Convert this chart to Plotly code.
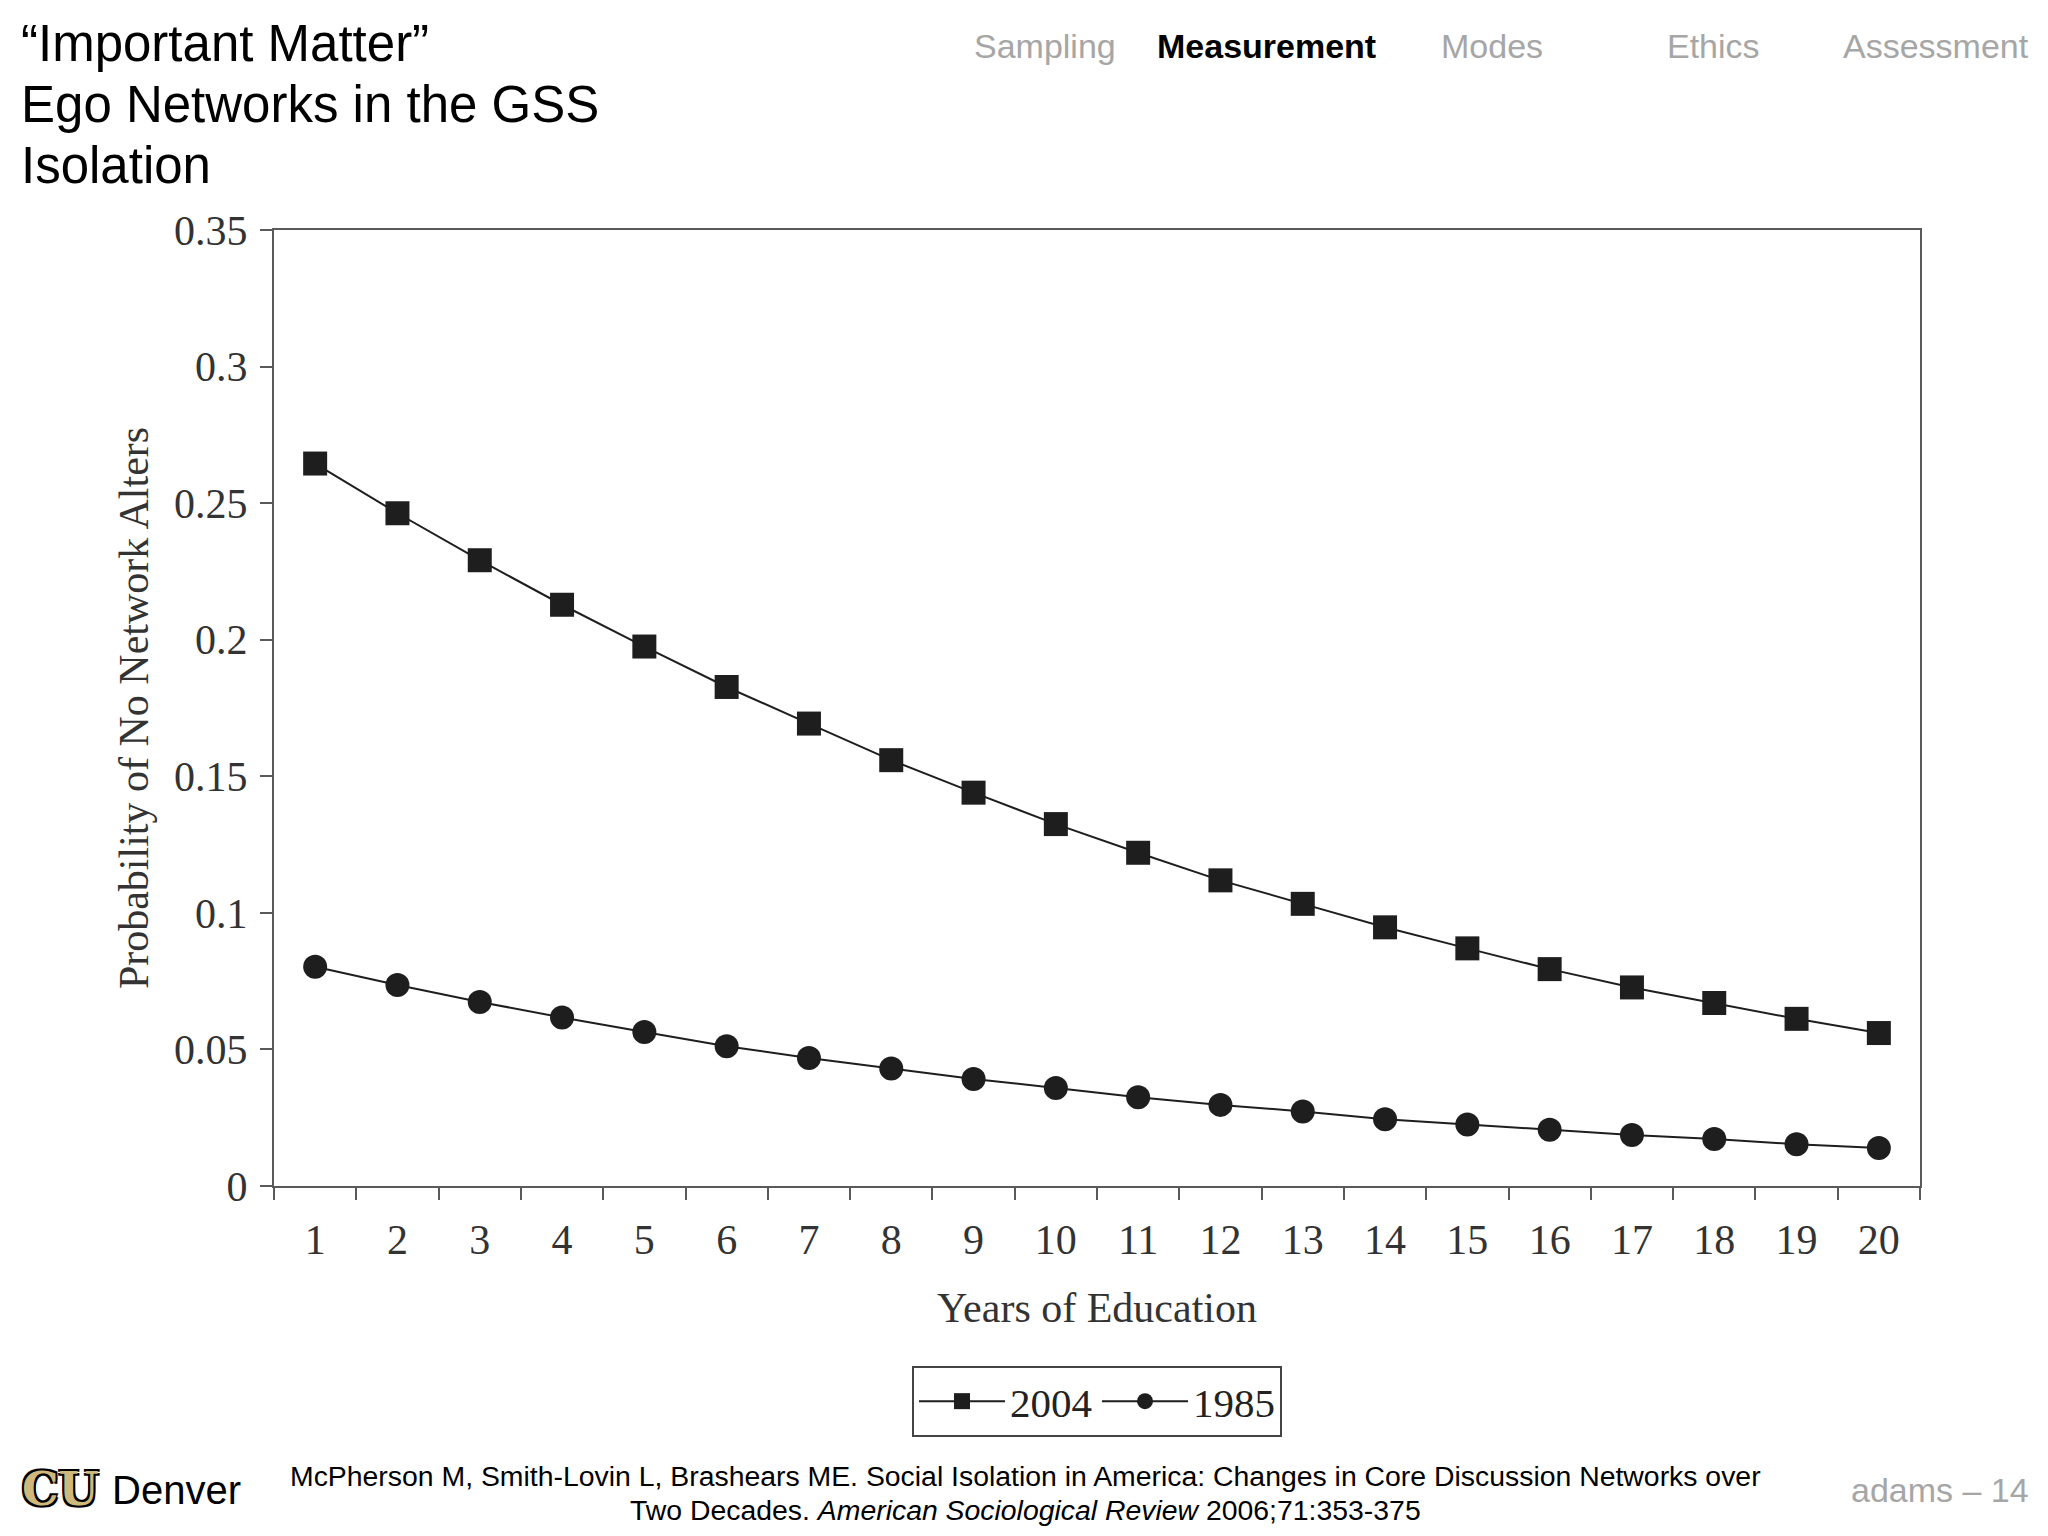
import plotly.graph_objects as go

# ---- data ----
years = [str(i) for i in range(1, 21)]
p2004 = [0.2645, 0.2463, 0.2291, 0.2128, 0.1975, 0.1827, 0.1693, 0.1559, 0.1440, 0.1325,
         0.1220, 0.1119, 0.1033, 0.0947, 0.0870, 0.0794, 0.0727, 0.0670, 0.0612, 0.0560]
p1985 = [0.0803, 0.0736, 0.0674, 0.0617, 0.0564, 0.0512, 0.0469, 0.0430, 0.0392, 0.0359,
         0.0325, 0.0297, 0.0273, 0.0244, 0.0225, 0.0206, 0.0187, 0.0172, 0.0153, 0.0139]
y_tickvals = [0, 0.05, 0.1, 0.15, 0.2, 0.25, 0.3, 0.35]
y_ticktext = ["0", "0.05", "0.1", "0.15", "0.2", "0.25", "0.3", "0.35"]
title_lines = ["“Important Matter”", "Ego Networks in the GSS", "Isolation"]
nav_items = ["Sampling", "Measurement", "Modes", "Ethics", "Assessment"]
nav_active = "Measurement"

# ---- layout geometry (page pixels; the page body has an 8px margin) ----
OFF = 8
W, H = 2048 - OFF, 1536 - OFF
PL, PR, PT, PB = 274, 1920, 230, 1186          # plot area in page pixels
L, T = PL - OFF, PT - OFF
R, B = (W + OFF) - PR, (H + OFF) - PB
PW, PH = PR - PL, PB - PT


def px(x):
    return (x - PL) / PW


def py(y):
    return (PB - y) / PH


SERIF = "Liberation Serif, Times New Roman, serif"
SANS = "Liberation Sans, Arial, sans-serif"
INK = "#1e1e1e"

fig = go.Figure()
fig.add_trace(go.Scatter(
    x=years, y=p2004, name="2004", mode="lines+markers",
    line=dict(color=INK, width=2),
    marker=dict(symbol="square", size=24, color=INK),
))
fig.add_trace(go.Scatter(
    x=years, y=p1985, name="1985", mode="lines+markers",
    line=dict(color=INK, width=2),
    marker=dict(symbol="circle", size=24, color=INK),
))

axis_common = dict(
    showline=True, linecolor="#5a5a5a", linewidth=2, mirror=True,
    ticks="outside", tickcolor="#5a5a5a", tickwidth=2, ticklen=12,
    showgrid=False, zeroline=False,
    tickfont=dict(family=SERIF, size=42, color="#333333"),
)

fig.update_layout(
    width=W, height=H,
    margin=dict(l=L, r=R, t=T, b=B, autoexpand=False),
    paper_bgcolor="white", plot_bgcolor="white",
    xaxis=dict(
        type="category", tickson="boundaries", range=[-0.5, 19.5],
        ticklabelstandoff=16,
        title=dict(text="Years of Education", font=dict(family=SERIF, size=42, color="#333333"),
                   standoff=30),
        **axis_common,
    ),
    yaxis=dict(
        range=[0, 0.35], tickmode="array", tickvals=y_tickvals, ticktext=y_ticktext,
        ticklabelstandoff=4,
        title=dict(text="Probability of No Network Alters",
                   font=dict(family=SERIF, size=42, color="#333333"), standoff=12),
        **axis_common,
    ),
    legend=dict(
        orientation="h", x=0.5, xanchor="center", y=py(1366), yanchor="top",
        bordercolor="#444444", borderwidth=2, bgcolor="white",
        font=dict(family=SERIF, size=41, color="#222222"),
        itemsizing="trace", itemwidth=86, tracegroupgap=10,
    ),
    showlegend=True,
)

ann = []
# header title lines
for text, yc in zip(title_lines, [43, 104, 165]):
    ann.append(dict(text=text, x=px(19), y=py(yc), xanchor="left", yanchor="middle",
                    font=dict(family=SANS, size=51, color="black")))
# navigation
for text, xl in zip(nav_items, [972, 1155, 1439, 1665, 1841]):
    active = text == nav_active
    ann.append(dict(text=f"<b>{text}</b>" if active else text, x=px(xl), y=py(46),
                    xanchor="left", yanchor="middle",
                    font=dict(family=SANS, size=34, color="black" if active else "#a6a6a6")))
# footer
ann.append(dict(text="<b>CU</b>", x=px(60), y=py(1489), xanchor="center", yanchor="middle",
                font=dict(family="DejaVu Serif, serif", size=46, color="#CFB87C",
                          shadow="2px 2px 0 #000, -2px -2px 0 #000, 2px -2px 0 #000, -2px 2px 0 #000")))
ann.append(dict(text="Denver", x=px(110), y=py(1490), xanchor="left", yanchor="middle",
                font=dict(family=SANS, size=40, color="black")))
ann.append(dict(text="McPherson M, Smith-Lovin L, Brashears ME. Social Isolation in America: "
                     "Changes in Core Discussion Networks over",
                x=px(1025), y=py(1476), xanchor="center", yanchor="middle",
                font=dict(family=SANS, size=28.4, color="black")))
ann.append(dict(text="Two Decades. <i>American Sociological Review</i> 2006;71:353-375",
                x=px(1025), y=py(1510), xanchor="center", yanchor="middle",
                font=dict(family=SANS, size=28.4, color="black")))
ann.append(dict(text="adams – 14", x=px(2031), y=py(1490), xanchor="right", yanchor="middle",
                font=dict(family=SANS, size=34, color="#a6a6a6")))

for a in ann:
    a.update(xref="paper", yref="paper", showarrow=False)
fig.update_layout(annotations=ann)

fig.write_html("out.html")
